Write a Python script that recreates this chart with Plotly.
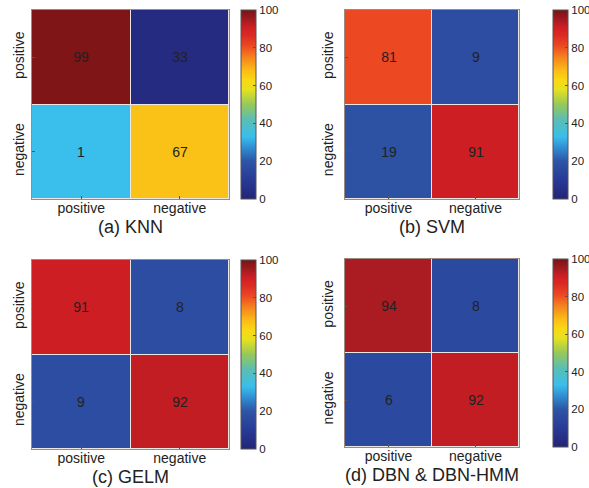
import plotly.graph_objects as go

W, H = 589, 488

categories = ["positive", "negative"]

# Printed cell values (rows: positive, negative; cols: positive, negative)
knn_labels = [[99, 33], [1, 67]]
svm_labels = [[81, 9], [19, 91]]
gelm_labels = [[91, 8], [9, 92]]
dbn_labels = [[94, 8], [6, 92]]

# Cell colour levels (KNN colours differ from its labels)
knn_colour = [[99, 3], [33, 67]]
svm_colour = [[81, 17], [19, 91]]
gelm_colour = [[91, 17], [17, 92]]
dbn_colour = [[94, 16], [16, 92]]

titles = ["(a) KNN", "(b) SVM", "(c) GELM", "(d) DBN & DBN-HMM"]
cbar_ticks = [0, 20, 40, 60, 80, 100]

colorscale = [
    [0.00, "rgb(36,36,118)"],
    [0.10, "rgb(40,58,150)"],
    [0.20, "rgb(45,85,165)"],
    [0.27, "rgb(48,140,210)"],
    [0.33, "rgb(58,190,235)"],
    [0.42, "rgb(90,190,180)"],
    [0.50, "rgb(150,200,90)"],
    [0.58, "rgb(230,225,30)"],
    [0.63, "rgb(250,215,20)"],
    [0.68, "rgb(250,188,22)"],
    [0.75, "rgb(245,130,30)"],
    [0.81, "rgb(236,72,34)"],
    [0.87, "rgb(218,40,36)"],
    [0.91, "rgb(205,30,35)"],
    [0.94, "rgb(170,28,34)"],
    [1.00, "rgb(118,20,20)"],
]

# panel pixel boxes: (x0, x1, y0_top, y1_bottom)
panels = [
    (32, 229, 10, 199),
    (345, 519, 10, 199),
    (32, 229, 260, 449),
    (345, 519, 259, 447),
]
cbar_x = [241, 553, 241, 553]
ylab_standoff = [1, 5, 1, 5]

data = [
    (knn_colour, knn_labels),
    (svm_colour, svm_labels),
    (gelm_colour, gelm_labels),
    (dbn_colour, dbn_labels),
]

FONT = "Liberation Sans, Arial, sans-serif"
fig = go.Figure()
layout_axes = {}
annotations = []
for i, ((zc, lab), (x0, x1, yt, yb), cx, ys, title) in enumerate(
        zip(data, panels, cbar_x, ylab_standoff, titles)):
    n = i + 1
    xa = "x" if n == 1 else f"x{n}"
    ya = "y" if n == 1 else f"y{n}"
    fig.add_trace(go.Heatmap(
        z=zc, x=categories, y=categories, text=lab,
        texttemplate="%{text}", textfont=dict(size=14, color="#222", family=FONT),
        colorscale=colorscale, zmin=0, zmax=100, xgap=1, ygap=1,
        xaxis=xa, yaxis=ya, hoverinfo="skip",
        colorbar=dict(
            x=cx / W, xanchor="left", xref="paper",
            y=1 - yb / H, yanchor="bottom", len=(yb - yt) / H, lenmode="fraction",
            thickness=15, thicknessmode="pixels",
            outlinewidth=1, outlinecolor="#555",
            tickvals=cbar_ticks, ticks="inside", ticklen=3, tickcolor="#555",
            tickfont=dict(size=11.5, color="#222", family=FONT),
            xpad=0, ypad=0,
        ),
    ))
    xkey = "xaxis" if n == 1 else f"xaxis{n}"
    ykey = "yaxis" if n == 1 else f"yaxis{n}"
    layout_axes[xkey] = dict(
        domain=[x0 / W, x1 / W], anchor=ya, showgrid=False, zeroline=False,
        ticks="inside", ticklen=3, tickcolor="#555", ticklabelstandoff=-4,
        showline=True, linecolor="#9a8a80", linewidth=1, mirror=True,
        tickfont=dict(size=14, color="#222", family=FONT),
    )
    layout_axes[ykey] = dict(
        domain=[1 - yb / H, 1 - yt / H], anchor=xa, showgrid=False, zeroline=False,
        autorange="reversed", tickangle=-90, ticklabelstandoff=ys,
        ticks="inside", ticklen=3, tickcolor="#555",
        showline=True, linecolor="#9a8a80", linewidth=1, mirror=True,
        tickfont=dict(size=14, color="#222", family=FONT),
    )
    annotations.append(dict(
        text=title, x=(x0 + x1) / 2 / W, y=1 - (yb + 28) / H, xref="paper", yref="paper",
        xanchor="center", yanchor="middle", showarrow=False,
        font=dict(size=18, color="#222", family=FONT),
    ))

fig.update_layout(
    width=W, height=H, margin=dict(l=0, r=0, t=0, b=0, autoexpand=False),
    paper_bgcolor="white", plot_bgcolor="#ece6e2",
    annotations=annotations, **layout_axes,
)
fig.write_html("out.html", config={"displayModeBar": False},
               post_script="document.body.style.margin='0px';")
